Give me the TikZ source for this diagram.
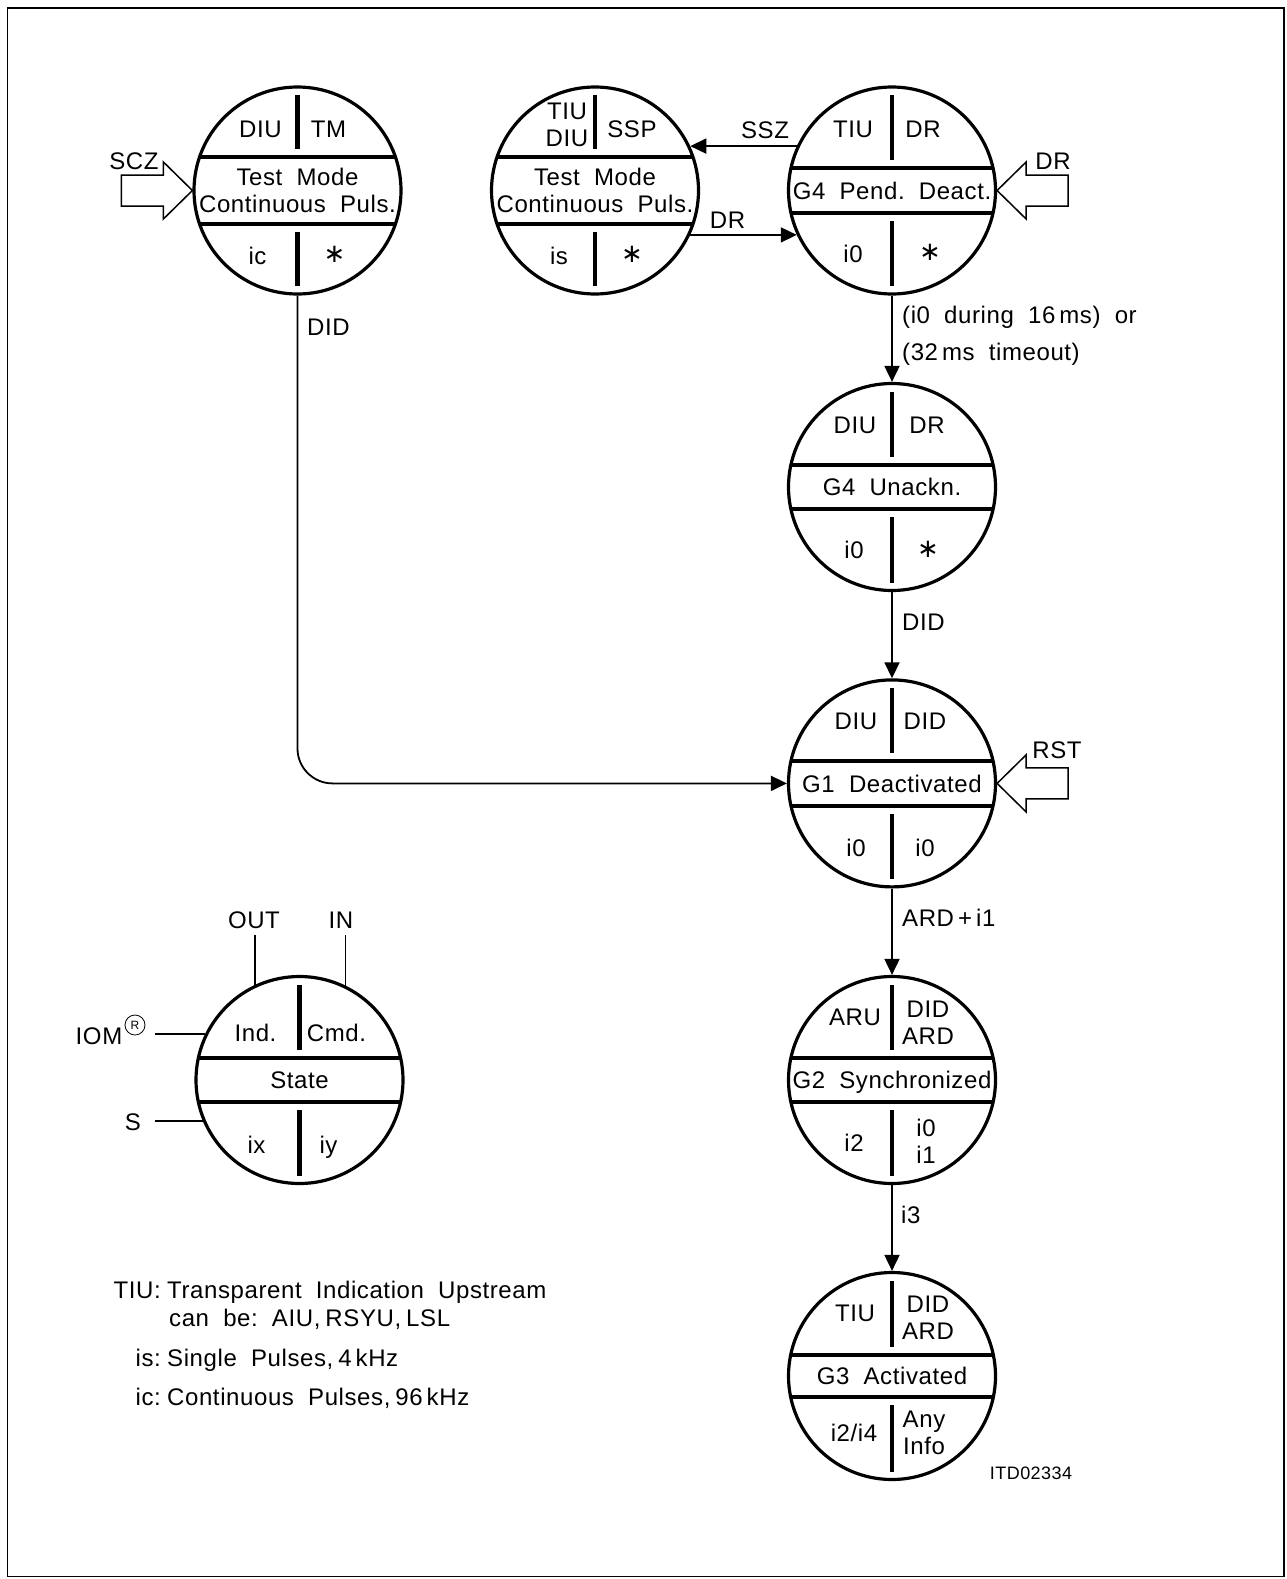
\documentclass[tikz,border=0pt]{standalone}
\usepackage{fontspec}
\setmainfont{Liberation Sans}[WordSpace=1.95,LetterSpace=2.5]
\newfontfamily\djv{DejaVu Sans}
\usetikzlibrary{arrows.meta,calc}
\frenchspacing
\newcommand\cmsp{\hspace{5pt}}
\tikzset{
  st/.style={circle, draw, line width=3.2pt, minimum size=207pt, inner sep=0pt},
  band/.style={line width=4.2pt},
  divi/.style={line width=4.4pt},
  conn/.style={line width=1.8pt},
  arr/.style={conn, -{Triangle[length=16pt,width=15pt]}},
  blk/.style={line width=1.5pt, line join=miter},
  t/.style={font=\fontsize{24}{27}\selectfont, inner sep=0pt, text height=17.2pt, text depth=0pt},
  tt/.style={font=\fontsize{24}{27}\selectfont, inner sep=0pt, align=center},
  ast/.style={font=\djv\fontsize{26}{26}\selectfont, inner sep=0pt},
}
\newcommand\mkstate[4][]{%
  \node[st] (#2) at #3 {};
  \begin{scope}
    \clip #3 circle (103.5);
    \draw[band] ($#3+(-110,-#4)$) -- ($#3+(110,-#4)$);
    \draw[band] ($#3+(-110,#4)$) -- ($#3+(110,#4)$);
  \end{scope}
  \draw[divi] ($#3+(0,-95.5)$) -- ($#3+(0,-#4-8)$);
  \draw[divi] ($#3+(0,#4+8)$) -- ($#3+(0,95.5)$);
}
\begin{document}
\begin{tikzpicture}[x=1pt,y=-1pt]
\useasboundingbox (0,0) rectangle (1286,1579);
\draw[line width=1.8pt] (7.5,8.3) rectangle (1284.2,1576.5);

\mkstate{tm}{(297.5,190.5)}{33.5}
\mkstate{ssp}{(595,190.5)}{33.5}
\mkstate{g4p}{(892,190.5)}{22.5}
\mkstate{g4u}{(892,487)}{22}
\mkstate{g1}{(892,783.4)}{22.5}
\mkstate{g2}{(892,1080)}{22}
\mkstate{g3}{(892,1376)}{21}
\mkstate{leg}{(299.5,1080)}{22}

% TM state
\node[t] (tm1) at ($(tm)+(-37,-62)$) {DIU};
\node[t] (tm2) at ($(tm)+(31,-62)$) {TM};
\node[tt] (tm3) at (tm) {Test Mode\\Continuous Puls.};
\node[t] (tm4) at ($(tm)+(-40,65)$) {ic};
\node[ast] (tm5) at ($(tm)+(37,64)$) {∗};

% SSP state
\node[tt] (ss1) at ($(ssp)+(-28,-66)$) {TIU\\DIU};
\node[t] (ss2) at ($(ssp)+(37,-62)$) {SSP};
\node[tt] (ss3) at (ssp) {Test Mode\\Continuous Puls.};
\node[t] (ss4) at ($(ssp)+(-36,65)$) {is};
\node[ast] (ss5) at ($(ssp)+(37,64)$) {∗};

% G4 pending deactivation
\node[t] (p1) at ($(g4p)+(-39,-62)$) {TIU};
\node[t] (p2) at ($(g4p)+(31,-62)$) {DR};
\node[t] (p3) at (g4p) {G4 Pend. Deact.};
\node[t] (p4) at ($(g4p)+(-39,63)$) {i0};
\node[ast] (p5) at ($(g4p)+(38,62)$) {∗};

% G4 unacknowledged
\node[t] (u1) at ($(g4u)+(-37,-62)$) {DIU};
\node[t] (u2) at ($(g4u)+(35,-62)$) {DR};
\node[t] (u3) at (g4u) {G4 Unackn.};
\node[t] (u4) at ($(g4u)+(-38,63)$) {i0};
\node[ast] (u5) at ($(g4u)+(36,62)$) {∗};

% G1 deactivated
\node[t] (a1) at ($(g1)+(-36,-63)$) {DIU};
\node[t] (a2) at ($(g1)+(33,-63)$) {DID};
\node[t] (a3) at (g1) {G1 Deactivated};
\node[t] (a4) at ($(g1)+(-36,64)$) {i0};
\node[t] (a5) at ($(g1)+(33,64)$) {i0};

% G2 synchronized
\node[t] (b1) at ($(g2)+(-37,-63)$) {ARU};
\node[tt] (b2) at ($(g2)+(36,-57)$) {DID\\ARD};
\node[t] (b3) at (g2) {G2 Synchronized};
\node[t] (b4) at ($(g2)+(-38,63)$) {i2};
\node[tt] (b5) at ($(g2)+(34,61.5)$) {i0\\i1};

% G3 activated
\node[t] (c1) at ($(g3)+(-37,-63)$) {TIU};
\node[tt] (c2) at ($(g3)+(36,-58.5)$) {DID\\ARD};
\node[t] (c3) at (g3) {G3 Activated};
\node[t] (c4) at ($(g3)+(-38,57)$) {i2/i4};
\node[tt] (c5) at ($(g3)+(32,56.5)$) {Any\\Info};

% legend state
\node[t] (l1) at ($(leg)+(-44,-47)$) {Ind.};
\node[t] (l2) at ($(leg)+(37,-47)$) {Cmd.};
\node[t] (l3) at (leg) {State};
\node[t] (l4) at ($(leg)+(-43,65)$) {ix};
\node[t] (l5) at ($(leg)+(29,65)$) {iy};

% block arrows
\draw[blk] (tm.west) -- ++(-29,-28.5) -- ++(0,13) -- ++(-42,0) -- ++(0,31) -- ++(42,0) -- ++(0,13) -- cycle;
\node[t] (scz) at (134,161) {SCZ};
\draw[blk] (g4p.east) -- ++(29,-28.5) -- ++(0,13) -- ++(42,0) -- ++(0,31) -- ++(-42,0) -- ++(0,13) -- cycle;
\node[t] (drin) at (1053,161) {DR};
\draw[blk] (g1.east) -- ++(29,-28.5) -- ++(0,13) -- ++(42,0) -- ++(0,31) -- ++(-42,0) -- ++(0,13) -- cycle;
\node[t] (rst) at (1057,750) {RST};

% connectors
\draw[arr] (g4p.155) -- (ssp.25);
\node[t] (ssz) at (765,130) {SSZ};
\draw[arr] (ssp.-25) -- (g4p.205);
\node[t] (dr2) at (727.5,220) {DR};
\draw[arr] (g4p) -- (g4u);
\node[t, anchor=west] (e1) at (902,315) {(i0 during 16\,ms) or};
\node[t, anchor=west] (e2) at (902,352) {(32\,ms timeout)};
\draw[arr] (g4u) -- (g1);
\node[t, anchor=west] (e3) at (902,622) {DID};
\draw[arr] (g1) -- (g2);
\node[t, anchor=west] (e4) at (902,918) {ARD\,+\,i1};
\draw[arr] (g2) -- (g3);
\node[t, anchor=west] (e5) at (901,1215) {i3};
\draw[arr, rounded corners=35pt] (tm.south) |- (g1.west);
\node[t, anchor=west] (e6) at (307,327) {DID};

% legend connections
\node[t] (outl) at (254,920) {OUT};
\node[t] (inl) at (341,920) {IN};
\coordinate (ltop) at (0,935);
\coordinate (lleft) at (155,0);
\draw[conn] (leg.115.5) -- (leg.115.5 |- ltop);
\draw[conn] (leg.64.5) -- (leg.64.5 |- ltop);
\draw[conn] (leg.154.4) -- (leg.154.4 -| lleft);
\draw[conn] (leg.203.6) -- (leg.203.6 -| lleft);
\node[t] (iom) at (99,1036) {IOM};
\node[circle, draw, line width=0.8pt, minimum size=20pt, inner sep=0pt, font=\fontsize{12}{12}\selectfont] (reg) at (135,1025) {R};
\node[t] (sl) at (133,1122) {S};

% key
\node[t, anchor=east] (k1) at (161,1290) {TIU:};
\node[t, anchor=west] (v1) at (167,1290) {Transparent Indication Upstream};
\node[t, anchor=west] (v1b) at (169,1318) {can be: AIU,\cmsp RSYU,\cmsp LSL};
\node[t, anchor=east] (k2) at (161,1358) {is:};
\node[t, anchor=west] (v2) at (167,1358) {Single Pulses,\cmsp 4\,kHz};
\node[t, anchor=east] (k3) at (161,1397) {ic:};
\node[t, anchor=west] (v3) at (167,1397) {Continuous Pulses,\cmsp 96\,kHz};

\node[font=\fontsize{18}{18}\selectfont, inner sep=0pt, text height=13pt, text depth=0pt] (itd) at (1031,1473) {ITD02334};
\end{tikzpicture}
\end{document}
